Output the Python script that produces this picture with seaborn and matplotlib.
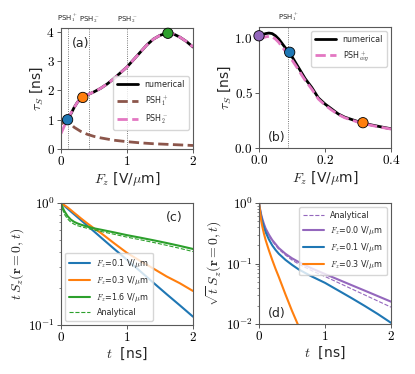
import numpy as np
import pandas as pd
import matplotlib
matplotlib.use("Agg")
import matplotlib.pyplot as plt
from matplotlib.ticker import FuncFormatter, LogLocator, NullFormatter
import matplotlib.transforms as mtransforms
import seaborn as sns

# ---------------- data ----------------
# Panel (a): spin lifetime vs field
fa_num_x = [0, 0.05, 0.1, 0.15, 0.2, 0.25, 0.3, 0.35, 0.4, 0.5, 0.6, 0.7, 0.8, 0.9,
            1.0, 1.1, 1.2, 1.3, 1.4, 1.5, 1.6, 1.7, 1.8, 1.9, 2.0]
fa_num_y = [0.90, 0.95, 1.02, 1.20, 1.42, 1.60, 1.72, 1.79, 1.85, 1.95, 2.07, 2.22, 2.40,
            2.60, 2.80, 3.05, 3.30, 3.55, 3.75, 3.88, 3.95, 3.93, 3.82, 3.67, 3.48]
fa_psh2_x = fa_num_x
fa_psh2_y = [0.53, 0.78, 1.02, 1.22, 1.42, 1.60, 1.72, 1.79, 1.85, 1.95, 2.07, 2.22, 2.40,
             2.60, 2.80, 3.05, 3.30, 3.55, 3.75, 3.88, 3.95, 3.93, 3.82, 3.67, 3.48]
fa_psh1_x = [0, 0.05, 0.1, 0.15, 0.2, 0.3, 0.4, 0.5, 0.6, 0.8, 1.0, 1.2, 1.4, 1.6, 1.8, 2.0]
fa_psh1_y = [0.85, 0.93, 0.95, 0.85, 0.74, 0.60, 0.50, 0.43, 0.38, 0.30, 0.25, 0.21,
             0.18, 0.16, 0.14, 0.12]
fa_mark_x = [0.1, 0.33, 1.62]
fa_mark_y = [1.0, 1.76, 3.95]
fa_mark_c = ["#1f77b4", "#ff7f0e", "#2ca02c"]
fa_vlines = [0.1, 0.43, 1.0]
fa_vlabels = [r"PSH$_1^+$", r"PSH$_2^-$", r"PSH$_2^-$"]

# Panel (b)
fb_x = [0, 0.01, 0.02, 0.03, 0.04, 0.05, 0.06, 0.07, 0.08, 0.09, 0.1, 0.11, 0.12, 0.13,
        0.14, 0.15, 0.16, 0.18, 0.2, 0.22, 0.24, 0.26, 0.28, 0.3, 0.32, 0.34, 0.36, 0.38, 0.4]
fb_num_y = [1.02, 1.03, 1.04, 1.045, 1.04, 1.02, 0.99, 0.95, 0.91, 0.87, 0.83, 0.78, 0.73,
            0.68, 0.63, 0.59, 0.55, 0.455, 0.40, 0.355, 0.31, 0.28, 0.26, 0.24, 0.225,
            0.21, 0.198, 0.186, 0.175]
fb_avg_y = [0.99, 1.00, 1.01, 1.015, 1.01, 0.99, 0.96, 0.92, 0.88, 0.84, 0.80, 0.755, 0.71,
            0.66, 0.615, 0.575, 0.535, 0.445, 0.39, 0.345, 0.305, 0.275, 0.255, 0.235,
            0.22, 0.206, 0.194, 0.183, 0.172]
fb_mark_x = [0.0, 0.093, 0.315]
fb_mark_y = [1.02, 0.87, 0.23]
fb_mark_c = ["#9467bd", "#1f77b4", "#ff7f0e"]
fb_vline = 0.088

# Panel (c): t*S_z
tc = [0, 0.02, 0.05, 0.1, 0.15, 0.2, 0.25, 0.3, 0.4, 0.5, 0.6, 0.8, 1.0, 1.2, 1.4, 1.6,
      1.8, 2.0]
c_f01 = [1.0, 0.979, 0.948, 0.898, 0.851, 0.807, 0.765, 0.725, 0.651, 0.585, 0.525, 0.423,
         0.342, 0.276, 0.222, 0.179, 0.145, 0.117]
c_f03 = [1.0, 0.984, 0.96, 0.92, 0.875, 0.83, 0.79, 0.75, 0.68, 0.62, 0.57, 0.47, 0.39,
         0.335, 0.29, 0.25, 0.22, 0.19]
c_f16 = [1.0, 0.93, 0.86, 0.78, 0.73, 0.70, 0.68, 0.665, 0.64, 0.62, 0.605, 0.575, 0.545,
         0.52, 0.495, 0.47, 0.445, 0.42]
c_an = [1.0, 0.90, 0.81, 0.74, 0.695, 0.67, 0.652, 0.64, 0.62, 0.60, 0.585, 0.555, 0.525,
        0.50, 0.475, 0.45, 0.425, 0.40]
c_labels = [r"$F_z$=0.1 V/$\mu$m", r"$F_z$=0.3 V/$\mu$m", r"$F_z$=1.6 V/$\mu$m", "Analytical"]

# Panel (d): sqrt(t)*S_z
td = [0, 0.01, 0.02, 0.035, 0.05, 0.075, 0.1, 0.15, 0.2, 0.25, 0.3, 0.4, 0.5, 0.6, 0.8,
      1.0, 1.2, 1.4, 1.6, 1.8, 2.0]
d_f00 = [1.0, 0.86, 0.75, 0.63, 0.55, 0.45, 0.38, 0.30, 0.245, 0.21, 0.18, 0.145, 0.122,
         0.106, 0.083, 0.067, 0.0543, 0.044, 0.0357, 0.0289, 0.0234]
d_an = [1.0, 0.85, 0.73, 0.61, 0.53, 0.44, 0.37, 0.29, 0.235, 0.20, 0.172, 0.138, 0.114,
        0.098, 0.076, 0.061, 0.0483, 0.0382, 0.0303, 0.024, 0.019]
d_f01 = [1.0, 0.85, 0.72, 0.59, 0.50, 0.40, 0.33, 0.25, 0.20, 0.168, 0.145, 0.115, 0.095,
         0.080, 0.061, 0.0479, 0.0359, 0.0269, 0.01995, 0.01462, 0.01047]
td_f03 = [0, 0.01, 0.02, 0.035, 0.05, 0.075, 0.1, 0.15, 0.2, 0.25, 0.3, 0.4, 0.5, 0.6]
d_f03 = [1.0, 0.82, 0.67, 0.50, 0.41, 0.31, 0.245, 0.165, 0.115, 0.082, 0.06, 0.031,
         0.0165, 0.0092]
d_labels = ["Analytical", r"$F_z$=0.0 V/$\mu$m", r"$F_z$=0.1 V/$\mu$m", r"$F_z$=0.3 V/$\mu$m"]

# ---------------- style ----------------
sns.set_style("ticks")
plt.rcParams["font.family"] = ["DejaVu Sans"]
plt.rcParams["mathtext.fontset"] = "cm"
plt.rcParams["axes.edgecolor"] = "0.35"
plt.rcParams["axes.linewidth"] = 0.8
plt.rcParams["xtick.color"] = "0.35"
plt.rcParams["ytick.color"] = "0.35"
plt.rcParams["xtick.labelcolor"] = "black"
plt.rcParams["ytick.labelcolor"] = "black"

BLUE, ORANGE, GREEN, PURPLE = "#1f77b4", "#ff7f0e", "#2ca02c", "#9467bd"
PINK, BROWN = "#e377c2", "#8c564b"

fig = plt.figure(figsize=(4.15, 3.74), dpi=100)
W, H = 415, 374

def axes_px(l, r, t, b):
    return fig.add_axes([l / W, 1 - b / H, (r - l) / W, (b - t) / H])

ax_a = axes_px(61, 193, 28, 149)
ax_b = axes_px(259, 391, 27, 148)
ax_c = axes_px(61, 193, 203, 325)
ax_d = axes_px(259, 391, 203, 324)

TICK_FS = 9.5
LAB_FS = 10
LEG_FS = 5.8

def fmt(decimals):
    return FuncFormatter(lambda v, p: ("$%." + str(decimals) + "f$") % v)

logfmt = FuncFormatter(lambda v, p: r"$10^{%d}$" % int(round(np.log10(v))))

for ax in (ax_a, ax_b, ax_c, ax_d):
    ax.tick_params(labelsize=TICK_FS, length=3, width=0.7, pad=1.5)
    for s in ax.spines.values():
        s.set_visible(True)

# ---- (a) ----
sns.lineplot(x=fa_num_x, y=fa_num_y, ax=ax_a, color="black", lw=2.0, label="numerical",
             estimator=None)
sns.lineplot(x=fa_psh1_x, y=fa_psh1_y, ax=ax_a, color=BROWN, lw=2.0, linestyle="--",
             label=r"PSH$_1^+$", estimator=None)
sns.lineplot(x=fa_psh2_x, y=fa_psh2_y, ax=ax_a, color=PINK, lw=2.0, linestyle="--",
             label=r"PSH$_2^-$", estimator=None)
sns.scatterplot(x=fa_mark_x, y=fa_mark_y, ax=ax_a, hue=fa_mark_c, palette={c: c for c in fa_mark_c},
                s=55, edgecolor="black", linewidth=0.6, zorder=5, legend=False, clip_on=False)
trans_a = mtransforms.blended_transform_factory(ax_a.transData, ax_a.transAxes)
for xv, lab in zip(fa_vlines, fa_vlabels):
    ax_a.axvline(xv, color="0.3", lw=0.6, ls=":", zorder=0)
    ax_a.text(xv, 1.025, lab, transform=trans_a, ha="center", va="bottom", fontsize=5)
ax_a.set_xlim(0, 2)
ax_a.set_ylim(0, 4.13)
ax_a.set_xticks([0, 1, 2])
ax_a.set_yticks([0, 1, 2, 3, 4])
ax_a.xaxis.set_major_formatter(fmt(0))
ax_a.yaxis.set_major_formatter(fmt(0))
ax_a.set_xlabel(r"$F_z$ [V/$\mu$m]", fontsize=LAB_FS, labelpad=1)
ax_a.set_ylabel(r"$\tau_S$ [ns]", fontsize=LAB_FS, labelpad=1)
ax_a.text(0.08, 0.87, "(a)", transform=ax_a.transAxes, fontsize=9, ha="left", va="center")
ax_a.legend(loc="center right", bbox_to_anchor=(1.0, 0.38), fontsize=LEG_FS, handlelength=2.6,
            borderpad=0.5, labelspacing=0.6, framealpha=0.8)

# ---- (b) ----
sns.lineplot(x=fb_x, y=fb_num_y, ax=ax_b, color="black", lw=2.0, label="numerical",
             estimator=None)
sns.lineplot(x=fb_x, y=fb_avg_y, ax=ax_b, color=PINK, lw=2.0, linestyle="--",
             label=r"PSH$^+_{avg}$", estimator=None)
sns.scatterplot(x=fb_mark_x, y=fb_mark_y, ax=ax_b, hue=fb_mark_c, palette={c: c for c in fb_mark_c},
                s=55, edgecolor="black", linewidth=0.6, zorder=5, legend=False, clip_on=False)
trans_b = mtransforms.blended_transform_factory(ax_b.transData, ax_b.transAxes)
ax_b.axvline(fb_vline, color="0.3", lw=0.6, ls=":", zorder=0)
ax_b.text(fb_vline, 1.025, r"PSH$_1^+$", transform=trans_b, ha="center", va="bottom", fontsize=5)
ax_b.set_xlim(0, 0.4)
ax_b.set_ylim(0, 1.1)
ax_b.set_xticks([0, 0.2, 0.4])
ax_b.set_yticks([0, 0.5, 1.0])
ax_b.xaxis.set_major_formatter(fmt(1))
ax_b.yaxis.set_major_formatter(fmt(1))
ax_b.set_xlabel(r"$F_z$ [V/$\mu$m]", fontsize=LAB_FS, labelpad=1)
ax_b.set_ylabel(r"$\tau_S$ [ns]", fontsize=LAB_FS, labelpad=1)
ax_b.text(0.07, 0.09, "(b)", transform=ax_b.transAxes, fontsize=9, ha="left", va="center")
ax_b.legend(loc="upper right", fontsize=LEG_FS, handlelength=2.6, borderpad=0.5,
            labelspacing=0.6, framealpha=0.8)

# ---- (c) ----
sns.lineplot(x=tc, y=c_f01, ax=ax_c, color=BLUE, lw=1.5, label=c_labels[0], estimator=None)
sns.lineplot(x=tc, y=c_f03, ax=ax_c, color=ORANGE, lw=1.5, label=c_labels[1], estimator=None)
sns.lineplot(x=tc, y=c_f16, ax=ax_c, color=GREEN, lw=1.5, label=c_labels[2], estimator=None)
sns.lineplot(x=tc, y=c_an, ax=ax_c, color=GREEN, lw=0.8, linestyle="--", label=c_labels[3],
             estimator=None)
ax_c.set_yscale("log")
ax_c.set_xlim(0, 2)
ax_c.set_ylim(0.1, 1.0)
ax_c.set_xticks([0, 1, 2])
ax_c.xaxis.set_major_formatter(fmt(0))
ax_c.yaxis.set_major_locator(LogLocator(base=10))
ax_c.yaxis.set_major_formatter(logfmt)
ax_c.yaxis.set_minor_formatter(NullFormatter())
ax_c.tick_params(which="minor", length=1.8, width=0.5)
ax_c.set_xlabel(r"$t$  [ns]", fontsize=LAB_FS, labelpad=1)
ax_c.set_ylabel(r"$t\,S_z(\mathbf{r}=0,t)$", fontsize=LAB_FS, labelpad=1)
ax_c.text(0.92, 0.88, "(c)", transform=ax_c.transAxes, fontsize=9, ha="right", va="center")
ax_c.legend(loc="lower left", fontsize=LEG_FS, handlelength=2.6, borderpad=0.5,
            labelspacing=0.5, framealpha=0.8)

# ---- (d) ----
sns.lineplot(x=td, y=d_an, ax=ax_d, color=PURPLE, lw=0.8, linestyle="--", label=d_labels[0],
             estimator=None)
sns.lineplot(x=td, y=d_f00, ax=ax_d, color=PURPLE, lw=1.5, label=d_labels[1], estimator=None)
sns.lineplot(x=td, y=d_f01, ax=ax_d, color=BLUE, lw=1.5, label=d_labels[2], estimator=None)
sns.lineplot(x=td_f03, y=d_f03, ax=ax_d, color=ORANGE, lw=1.5, label=d_labels[3], estimator=None)
ax_d.set_yscale("log")
ax_d.set_xlim(0, 2)
ax_d.set_ylim(0.01, 1.0)
ax_d.set_xticks([0, 1, 2])
ax_d.xaxis.set_major_formatter(fmt(0))
ax_d.yaxis.set_major_locator(LogLocator(base=10))
ax_d.yaxis.set_major_formatter(logfmt)
ax_d.yaxis.set_minor_formatter(NullFormatter())
ax_d.tick_params(which="minor", length=1.8, width=0.5)
ax_d.set_xlabel(r"$t$  [ns]", fontsize=LAB_FS, labelpad=1)
ax_d.set_ylabel(r"$\sqrt{t}\,S_z(\mathbf{r}=0,t)$", fontsize=LAB_FS, labelpad=1)
ax_d.text(0.07, 0.09, "(d)", transform=ax_d.transAxes, fontsize=9, ha="left", va="center")
ax_d.legend(loc="upper right", fontsize=LEG_FS, handlelength=2.6, borderpad=0.5,
            labelspacing=0.5, framealpha=0.8)

fig.savefig("out.png", dpi=100)
